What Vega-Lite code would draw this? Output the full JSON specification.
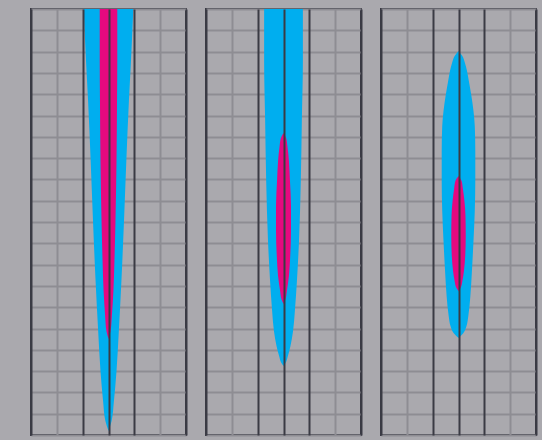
{
  "$schema": "https://vega.github.io/schema/vega-lite/v6.json",
  "background": "#aaa9ae",
  "padding": {"left": 30, "top": 8, "right": 5, "bottom": 5},
  "config": {
    "view": {"stroke": "#3a3b44", "strokeWidth": 2, "fill": "#aaa9ae"},
    "facet": {"spacing": 18}
  },
  "data": {
    "values": [
      {"p": 1, "s": "b", "d": 0, "lo": -0.96, "hi": 0.96},
      {"p": 1, "s": "b", "d": 2.44, "lo": -0.87, "hi": 0.87},
      {"p": 1, "s": "b", "d": 4.32, "lo": -0.79, "hi": 0.79},
      {"p": 1, "s": "b", "d": 7.14, "lo": -0.69, "hi": 0.69},
      {"p": 1, "s": "b", "d": 9.95, "lo": -0.6, "hi": 0.6},
      {"p": 1, "s": "b", "d": 12.77, "lo": -0.5, "hi": 0.5},
      {"p": 1, "s": "b", "d": 15.12, "lo": -0.4, "hi": 0.4},
      {"p": 1, "s": "b", "d": 17.0, "lo": -0.31, "hi": 0.31},
      {"p": 1, "s": "b", "d": 18.4, "lo": -0.21, "hi": 0.21},
      {"p": 1, "s": "b", "d": 19.34, "lo": -0.12, "hi": 0.12},
      {"p": 1, "s": "b", "d": 19.81, "lo": 0, "hi": 0},
      {"p": 1, "s": "m", "d": 0, "lo": -0.34, "hi": 0.34},
      {"p": 1, "s": "m", "d": 2.44, "lo": -0.34, "hi": 0.34},
      {"p": 1, "s": "m", "d": 4.32, "lo": -0.33, "hi": 0.33},
      {"p": 1, "s": "m", "d": 7.14, "lo": -0.31, "hi": 0.31},
      {"p": 1, "s": "m", "d": 9.95, "lo": -0.27, "hi": 0.27},
      {"p": 1, "s": "m", "d": 11.83, "lo": -0.23, "hi": 0.23},
      {"p": 1, "s": "m", "d": 13.24, "lo": -0.19, "hi": 0.19},
      {"p": 1, "s": "m", "d": 14.41, "lo": -0.13, "hi": 0.13},
      {"p": 1, "s": "m", "d": 15.12, "lo": -0.08, "hi": 0.08},
      {"p": 1, "s": "m", "d": 15.49, "lo": 0, "hi": 0},
      {"p": 2, "s": "b", "d": 0, "lo": -0.75, "hi": 0.75},
      {"p": 2, "s": "b", "d": 2.44, "lo": -0.75, "hi": 0.75},
      {"p": 2, "s": "b", "d": 5.26, "lo": -0.71, "hi": 0.71},
      {"p": 2, "s": "b", "d": 8.08, "lo": -0.67, "hi": 0.67},
      {"p": 2, "s": "b", "d": 10.89, "lo": -0.6, "hi": 0.6},
      {"p": 2, "s": "b", "d": 12.77, "lo": -0.52, "hi": 0.52},
      {"p": 2, "s": "b", "d": 14.18, "lo": -0.44, "hi": 0.44},
      {"p": 2, "s": "b", "d": 15.12, "lo": -0.37, "hi": 0.37},
      {"p": 2, "s": "b", "d": 15.82, "lo": -0.27, "hi": 0.27},
      {"p": 2, "s": "b", "d": 16.29, "lo": -0.17, "hi": 0.17},
      {"p": 2, "s": "b", "d": 16.62, "lo": -0.08, "hi": 0.08},
      {"p": 2, "s": "b", "d": 16.76, "lo": 0, "hi": 0},
      {"p": 2, "s": "m", "d": 5.82, "lo": 0, "hi": 0},
      {"p": 2, "s": "m", "d": 6.06, "lo": -0.1, "hi": 0.1},
      {"p": 2, "s": "m", "d": 6.43, "lo": -0.15, "hi": 0.15},
      {"p": 2, "s": "m", "d": 7.14, "lo": -0.21, "hi": 0.21},
      {"p": 2, "s": "m", "d": 8.08, "lo": -0.25, "hi": 0.25},
      {"p": 2, "s": "m", "d": 9.25, "lo": -0.29, "hi": 0.29},
      {"p": 2, "s": "m", "d": 10.42, "lo": -0.29, "hi": 0.29},
      {"p": 2, "s": "m", "d": 11.6, "lo": -0.26, "hi": 0.26},
      {"p": 2, "s": "m", "d": 12.54, "lo": -0.21, "hi": 0.21},
      {"p": 2, "s": "m", "d": 13.24, "lo": -0.13, "hi": 0.13},
      {"p": 2, "s": "m", "d": 13.62, "lo": -0.08, "hi": 0.08},
      {"p": 2, "s": "m", "d": 13.85, "lo": 0, "hi": 0},
      {"p": 3, "s": "b", "d": 1.97, "lo": 0, "hi": 0},
      {"p": 3, "s": "b", "d": 2.21, "lo": -0.15, "hi": 0.15},
      {"p": 3, "s": "b", "d": 2.54, "lo": -0.25, "hi": 0.25},
      {"p": 3, "s": "b", "d": 2.91, "lo": -0.33, "hi": 0.33},
      {"p": 3, "s": "b", "d": 3.38, "lo": -0.4, "hi": 0.4},
      {"p": 3, "s": "b", "d": 4.08, "lo": -0.5, "hi": 0.5},
      {"p": 3, "s": "b", "d": 4.79, "lo": -0.58, "hi": 0.58},
      {"p": 3, "s": "b", "d": 5.49, "lo": -0.63, "hi": 0.63},
      {"p": 3, "s": "b", "d": 6.67, "lo": -0.65, "hi": 0.65},
      {"p": 3, "s": "b", "d": 8.08, "lo": -0.65, "hi": 0.65},
      {"p": 3, "s": "b", "d": 9.48, "lo": -0.63, "hi": 0.63},
      {"p": 3, "s": "b", "d": 10.89, "lo": -0.58, "hi": 0.58},
      {"p": 3, "s": "b", "d": 12.3, "lo": -0.52, "hi": 0.52},
      {"p": 3, "s": "b", "d": 13.47, "lo": -0.46, "hi": 0.46},
      {"p": 3, "s": "b", "d": 14.41, "lo": -0.38, "hi": 0.38},
      {"p": 3, "s": "b", "d": 14.88, "lo": -0.31, "hi": 0.31},
      {"p": 3, "s": "b", "d": 15.21, "lo": -0.19, "hi": 0.19},
      {"p": 3, "s": "b", "d": 15.45, "lo": 0, "hi": 0},
      {"p": 3, "s": "m", "d": 7.84, "lo": 0, "hi": 0},
      {"p": 3, "s": "m", "d": 8.08, "lo": -0.12, "hi": 0.12},
      {"p": 3, "s": "m", "d": 8.45, "lo": -0.17, "hi": 0.17},
      {"p": 3, "s": "m", "d": 9.01, "lo": -0.23, "hi": 0.23},
      {"p": 3, "s": "m", "d": 9.72, "lo": -0.27, "hi": 0.27},
      {"p": 3, "s": "m", "d": 10.66, "lo": -0.28, "hi": 0.28},
      {"p": 3, "s": "m", "d": 11.6, "lo": -0.26, "hi": 0.26},
      {"p": 3, "s": "m", "d": 12.3, "lo": -0.21, "hi": 0.21},
      {"p": 3, "s": "m", "d": 12.77, "lo": -0.15, "hi": 0.15},
      {"p": 3, "s": "m", "d": 13.1, "lo": -0.08, "hi": 0.08},
      {"p": 3, "s": "m", "d": 13.24, "lo": 0, "hi": 0}
    ]
  },
  "facet": {
    "column": {"field": "p", "type": "ordinal", "header": {"title": null, "labels": false, "labelPadding": 0, "titlePadding": 0}}
  },
  "spec": {
    "width": 155,
    "height": 426,
    "encoding": {
      "y": {
        "field": "d", "type": "quantitative",
        "scale": {"domain": [0, 20], "reverse": true, "nice": false, "zero": false},
        "axis": {
          "title": null, "labels": false, "ticks": false, "domain": false,
          "values": [0, 1, 2, 3, 4, 5, 6, 7, 8, 9, 10, 11, 12, 13, 14, 15, 16, 17, 18, 19, 20],
          "grid": true, "gridColor": "#8e8d93", "gridWidth": 2, "gridOpacity": 1, "zindex": 0
        }
      },
      "x": {
        "field": "lo", "type": "quantitative",
        "scale": {"domain": [-3, 3], "nice": false, "zero": false},
        "axis": {
          "title": null, "labels": false, "ticks": false, "domain": false,
          "values": [-3, -2, -1, 0, 1, 2, 3],
          "grid": true, "gridWidth": 2, "gridOpacity": 1, "zindex": 1,
          "gridColor": {"condition": {"test": "datum.value == -2 || datum.value == 2", "value": "#8e8d93"}, "value": "#3a3b44"}
        }
      },
      "x2": {"field": "hi"}
    },
    "layer": [
      {
        "transform": [{"filter": "datum.s == 'b'"}],
        "mark": {"type": "area", "orient": "horizontal", "interpolate": "monotone", "color": "#00aeef", "opacity": 1}
      },
      {
        "transform": [{"filter": "datum.s == 'm'"}],
        "mark": {"type": "area", "orient": "horizontal", "interpolate": "monotone", "color": "#e5097f", "opacity": 1}
      }
    ]
  }
}
